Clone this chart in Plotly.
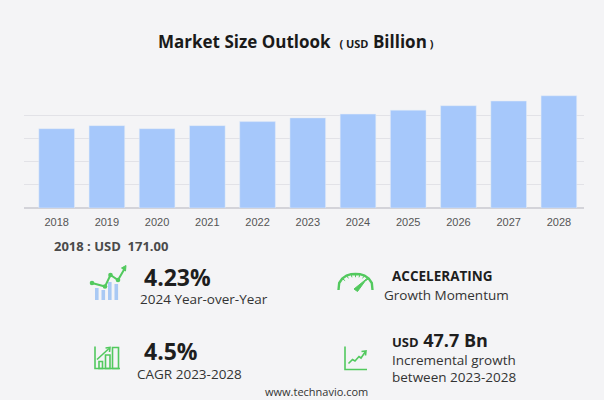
import plotly.graph_objects as go

years = ["2018", "2019", "2020", "2021", "2022", "2023", "2024", "2025", "2026", "2027", "2028"]
market_size = [171.0, 177.5, 171.0, 177.5, 186.2, 194.2, 202.4, 210.9, 220.5, 230.6, 241.9]

base_label = "2018 : USD  171.00"
yoy_value = "4.23%"
yoy_label = "2024 Year-over-Year"
cagr_value = "4.5%"
cagr_label = "CAGR 2023-2028"
momentum_value = "ACCELERATING"
momentum_label = "Growth Momentum"
incr_value = "47.7 Bn"
incr_label = ["Incremental growth", "between 2023-2028"]
source = "www.technavio.com"

W, H = 604, 400
L, R, T, B = 24, 20, 92, 192
BG = "#f4f4f6"
GREEN = "#52c95e"
BAR = "#a6c8fb"


def px(x):
    # pixel x -> paper x
    return (x - L) / (W - L - R)


def py(y):
    # pixel y -> paper y
    return (H - B - y) / (H - T - B)


def path(points, close=False):
    s = "M " + " L ".join(f"{px(a):.5f},{py(b):.5f}" for a, b in points)
    return s + (" Z" if close else "")


fig = go.Figure()
fig.add_trace(go.Bar(x=years, y=market_size, marker_color=BAR, hoverinfo="x+y"))

fig.update_layout(
    width=W, height=H, autosize=False,
    margin=dict(l=L, r=R, t=T, b=B),
    paper_bgcolor=BG, plot_bgcolor=BG,
    bargap=0.29, showlegend=False,
    font=dict(family="Open Sans, sans-serif", color="#333"),
)
fig.update_xaxes(type="category", range=[-0.65, 10.5], showgrid=False,
                 ticks="outside", ticklen=4, tickcolor="rgba(0,0,0,0)",
                 tickfont=dict(family="Liberation Sans, Arial", size=11, color="#555"))
fig.update_yaxes(range=[0, 250], dtick=50, showticklabels=False,
                 gridcolor="#e2e2e7", gridwidth=1,
                 zeroline=True, zerolinecolor="#d3d3d9", zerolinewidth=1.5)


def note(x, y, text, size, bold=False, color="#333", family="Open Sans, sans-serif", anchor="left"):
    fig.add_annotation(x=px(x), y=py(y), xref="paper", yref="paper",
                       text=f"<b>{text}</b>" if bold else text, showarrow=False,
                       xanchor=anchor, yanchor="middle",
                       font=dict(size=size, color=color, family=family))


note(296, 42, "Market Size Outlook  <span style='font-size:11px'>( </span>"
     "<span style='font-size:11px'>USD</span> Billion<span style='font-size:11px'> )</span>",
     17, bold=True, color="#1a1a1a", anchor="center")
note(52, 245.5, base_label, 13, bold=True, color="#4a4a4a")
note(142, 276.5, yoy_value, 23, bold=True, color="#1e1e1e")
note(138, 298.5, yoy_label, 13.5, color="#333")
note(142, 351.5, cagr_value, 23, bold=True, color="#1e1e1e")
note(135, 374, cagr_label, 13.5, color="#333")
note(390, 276, momentum_value, 13.5, bold=True, color="#1e1e1e")
note(382, 295, momentum_label, 13.5, color="#333")
note(390, 339.5, "<span style='font-size:13px'>USD</span> " + incr_value, 18, bold=True, color="#1e1e1e")
note(390, 360, incr_label[0], 13.5, color="#333")
note(390, 377, incr_label[1], 13.5, color="#333")
note(316, 391, source, 11, color="#333", anchor="center")

shapes = []
line_style = dict(color=GREEN, width=1.6)

# year-over-year icon: blue bars + green trend line
for x0, top in [(95, 288), (101.5, 290), (108, 282), (114.5, 284)]:
    shapes.append(dict(type="rect", xref="paper", yref="paper",
                       x0=px(x0), x1=px(x0 + 3.6), y0=py(300), y1=py(top),
                       fillcolor="#a9c9f4", line=dict(width=0)))
trend = [(92, 283), (105, 286.5), (110.5, 275), (118, 280), (125, 268)]
shapes.append(dict(type="path", xref="paper", yref="paper", path=path(trend),
                   line=dict(color=GREEN, width=2)))
for a, b in trend[:-1]:
    shapes.append(dict(type="circle", xref="paper", yref="paper",
                       x0=px(a - 2.3), x1=px(a + 2.3), y0=py(b - 2.3), y1=py(b + 2.3),
                       fillcolor=GREEN, line=dict(width=0)))
shapes.append(dict(type="path", xref="paper", yref="paper",
                   path=path([(121.5, 268), (126, 265.5), (125.5, 271)], close=True),
                   fillcolor=GREEN, line=dict(color=GREEN, width=1)))

# CAGR icon: axis frame, outlined bars, arrow
shapes.append(dict(type="path", xref="paper", yref="paper",
                   path=path([(95, 346.5), (95, 368.5), (120, 368.5)]), line=line_style))
for x0, x1, top in [(99, 102.5, 361.5), (105.5, 110, 355), (112.5, 118.5, 347.5)]:
    shapes.append(dict(type="rect", xref="paper", yref="paper",
                       x0=px(x0), x1=px(x1), y0=py(368.5), y1=py(top), line=line_style))
shapes.append(dict(type="path", xref="paper", yref="paper",
                   path=path([(97, 359.5), (109, 348.5)]), line=line_style))
shapes.append(dict(type="path", xref="paper", yref="paper",
                   path=path([(105.5, 348), (110, 347.5), (109.5, 352)]), line=line_style))

# momentum icon: gauge
cx, cy = 355.5, 288.5
arc = [(338.5, 290), (339.2, 283), (342.2, 278.5), (346.5, 275.5), (351, 274.2), (355.5, 274),
       (360, 274.2), (364.5, 275.5), (368.8, 278.5), (371.8, 283), (372.5, 290)]
shapes.append(dict(type="path", xref="paper", yref="paper", path=path(arc),
                   line=dict(color=GREEN, width=2.4)))
for (a, b) in arc[2:-2]:
    ia, ib = a + (cx - a) * 0.22, b + (cy - b) * 0.22
    shapes.append(dict(type="path", xref="paper", yref="paper", path=path([(a, b), (ia, ib)]),
                       line=dict(color=GREEN, width=1)))
shapes.append(dict(type="path", xref="paper", yref="paper",
                   path=path([(354, 289), (367, 278.5), (357.5, 291.5)], close=True),
                   fillcolor=GREEN, line=dict(color=GREEN, width=1)))

# incremental growth icon: axis + zigzag arrow
shapes.append(dict(type="path", xref="paper", yref="paper",
                   path=path([(345, 346.5), (345, 369.5), (367, 369.5)]), line=line_style))
shapes.append(dict(type="path", xref="paper", yref="paper",
                   path=path([(348.5, 363.5), (352.5, 359.5), (355, 361), (359, 356.5), (361, 358), (365.5, 351.5)]),
                   line=line_style))
shapes.append(dict(type="path", xref="paper", yref="paper",
                   path=path([(361.5, 351.5), (366, 351), (365.5, 355.5)]), line=line_style))

fig.update_layout(shapes=shapes)
fig.write_html("out.html", config={"displayModeBar": False},
               post_script="document.body.style.margin='0';document.body.style.background='%s';" % BG)
